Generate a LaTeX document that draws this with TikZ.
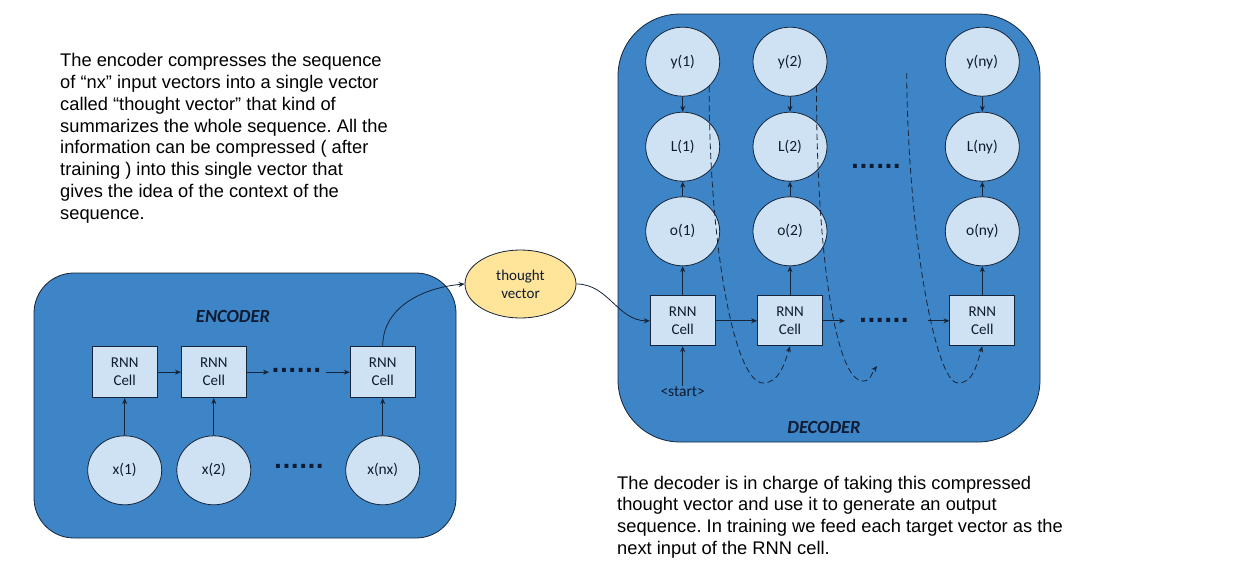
\documentclass[tikz,border=0pt]{standalone}
\usepackage{fontspec}
\setmainfont{Carlito}
\newfontfamily\parafont{Liberation Sans}
\newfontfamily\dotfont{DejaVu Sans}
\usetikzlibrary{arrows.meta,shapes.geometric}
\definecolor{panel}{HTML}{3D85C6}
\definecolor{cellfill}{HTML}{CFE2F3}
\definecolor{tvfill}{HTML}{FFE599}
\definecolor{ink}{HTML}{0F1B33}
\definecolor{edgec}{HTML}{16243A}
\frenchspacing
\tikzset{
  panelbox/.style={rectangle, draw=edgec, line width=0.8pt, fill=panel, inner sep=0pt},
  cellbox/.style={rectangle, draw=edgec, line width=0.8pt, fill=cellfill, minimum width=65pt, minimum height=51pt, inner sep=0pt, align=center, text=ink, font=\fontsize{15}{18}\selectfont},
  vecnode/.style={ellipse, draw=edgec, line width=0.8pt, fill=cellfill, minimum width=74pt, minimum height=69pt, inner sep=0pt, text=ink, font=\fontsize{15.5}{18}\selectfont},
  link/.style={draw=edgec, line width=0.8pt, -{Stealth[length=6pt,width=5pt]}},
  dashlink/.style={link, dash pattern=on 6pt off 3.5pt},
  dotsnode/.style={text=ink, font=\dotfont\bfseries\fontsize{22}{22}\selectfont, inner sep=0pt},
  titlenode/.style={text=ink, font=\bfseries\itshape\fontsize{18.5}{20}\selectfont},
  para/.style={align=left, anchor=base west, inner sep=0pt, font=\parafont\frenchspacing\fontsize{18.3}{21.8}\selectfont}
}
\begin{document}
\begin{tikzpicture}[x=1pt,y=-1pt]
\useasboundingbox (0,0) rectangle (1254,568);

% paragraphs (anchored at the baseline of their last line)
\node[para] (ptop) at (60,219.3) {The encoder compresses the sequence\\of “nx” input vectors into a single vector\\called “thought vector” that kind of\\summarizes the whole sequence. All the\\information can be compressed ( after\\training ) into this single vector that\\gives the idea of the context of the\\sequence.};
\node[para] (pbot) at (617,554.4) {The decoder is in charge of taking this compressed\\thought vector and use it to generate an output\\sequence. In training we feed each target vector as the\\next input of the RNN cell.};

% panels
\node[panelbox, rounded corners=40pt, minimum width=422pt, minimum height=265pt] (enc) at (245,405.5) {};
\node[panelbox, rounded corners=62pt, minimum width=422pt, minimum height=428pt] (dec) at (829,228) {};
\node[titlenode] (enclabel) at (233,316) {ENCODER};
\node[titlenode] (declabel) at (824,427) {DECODER};

% encoder
\node[cellbox] (e1) at (124.7,372.2) {RNN\\Cell};
\node[cellbox] (e2) at (213.8,372.2) {RNN\\Cell};
\node[cellbox] (e3) at (382.7,372.2) {RNN\\Cell};
\node[vecnode] (x1) at (124.7,470.3) {x(1)};
\node[vecnode] (x2) at (213.8,470.3) {x(2)};
\node[vecnode] (xn) at (382.7,470.3) {x(nx)};
\node[dotsnode] (edots1) at (296.5,370) {......};
\node[dotsnode] (edots2) at (299,466) {......};
\coordinate (ea) at (269,372.2);
\coordinate (eb) at (326,372.2);
\draw[link] (x1) -- (e1);
\draw[link] (x2) -- (e2);
\draw[link] (xn) -- (e3);
\draw[link] (e1) -- (e2);
\draw[link] (e2.east) -- (ea);
\draw[link] (eb) -- (e3.west);

% thought vector
\node[ellipse, draw=edgec, line width=0.8pt, fill=tvfill, minimum width=111pt, minimum height=68pt, inner sep=0pt, align=center, text=ink, font=\fontsize{15}{18}\selectfont] (tv) at (520.5,284) {thought\\vector};
\draw[link] (e3.north) to[out=90,in=185] (tv.west);

% decoder
\node[vecnode] (y1) at (682.7,61.7) {y(1)};
\node[vecnode] (y2) at (790,61.7) {y(2)};
\node[vecnode] (yn) at (982.3,61.7) {y(ny)};
\node[vecnode] (l1) at (682.7,146.7) {L(1)};
\node[vecnode] (l2) at (790,146.7) {L(2)};
\node[vecnode] (ln) at (982.3,146.7) {L(ny)};
\node[vecnode] (o1) at (682.7,231.3) {o(1)};
\node[vecnode] (o2) at (790,231.3) {o(2)};
\node[vecnode] (on) at (982.3,231.3) {o(ny)};
\node[cellbox, minimum height=50pt] (d1) at (682.7,320.8) {RNN\\Cell};
\node[cellbox, minimum height=50pt] (d2) at (790,320.8) {RNN\\Cell};
\node[cellbox, minimum height=50pt] (d3) at (982.3,320.8) {RNN\\Cell};
\node[text=ink, font=\fontsize{15.5}{18}\selectfont, inner sep=1pt] (start) at (682.7,391.7) {<start>};
\node[dotsnode] (ddots1) at (876,166) {......};
\node[dotsnode] (ddots2) at (884,320) {......};
\coordinate (da) at (845,320.8);
\coordinate (db) at (928,320.8);

\draw[link] (tv.east) to[out=0,in=180] (d1.west);
\draw[link] (start) -- (d1);
\foreach \c/\o/\l/\y in {d1/o1/l1/y1, d2/o2/l2/y2, d3/on/ln/yn}{
  \draw[link] (\c) -- (\o);
  \draw[link] (\o) -- (\l);
  \draw[link] (\y) -- (\l);
}
\draw[link] (d1) -- (d2);
\draw[link] (d2.east) -- (da);
\draw[link] (db) -- (d3.west);

% teacher-forcing dashed links
\coordinate (b1) at (763,383);
\coordinate (b2) at (863,381);
\coordinate (b3) at (958,383);
\coordinate (d2end) at (877,366);
\coordinate (d3start) at (906.7,73);
\draw[dashlink] (y1.south east) .. controls +(0,163) and +(-28,0) .. (b1) .. controls +(15,0) and +(-6,20) .. (d2.south);
\draw[dashlink] (y2.south east) .. controls +(0,163) and +(-28,0) .. (b2) .. controls +(8,0) and +(-6,8) .. (d2end);
\draw[dashlink] (d3start) .. controls +(1,157) and +(-23,0) .. (b3) .. controls +(15,0) and +(-6,20) .. (d3.south);
\end{tikzpicture}
\end{document}
